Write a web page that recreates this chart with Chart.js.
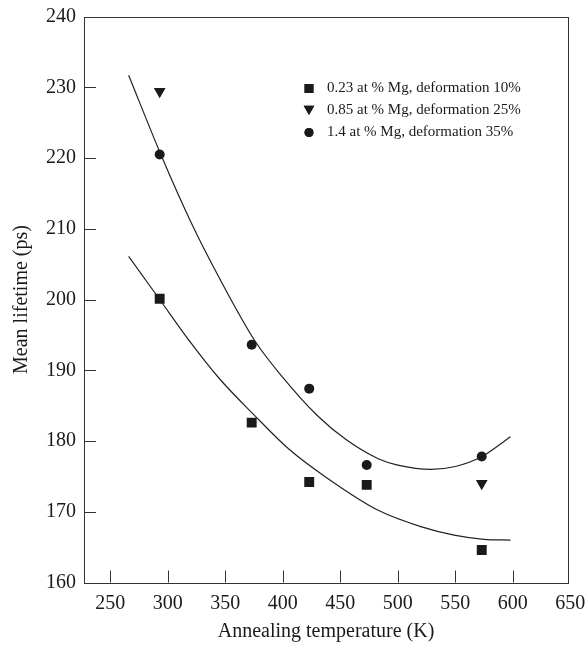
<!DOCTYPE html>
<html>
<head>
<meta charset="utf-8">
<script src="https://cdn.jsdelivr.net/npm/chart.js@4.4.0/dist/chart.umd.min.js"></script>
<style>
  html, body { margin: 0; padding: 0; background: #fff; }
  #wrap { width: 586px; height: 645px; }
</style>
</head>
<body>
<div id="wrap"><canvas id="chart"></canvas></div>
<script>
// measured points (annealing temperature in K, mean lifetime in ps)
const temps = [293, 373, 423, 473, 573];
const lowMg = [200.1, 182.6, 174.2, 173.8, 164.6];      // 0.23 at % Mg, 10%
const midTemps = [293, 573];
const midMg = [229.4, 174.0];                            // 0.85 at % Mg, 25%
const highMg = [220.5, 193.6, 187.4, 176.6, 177.8];     // 1.4 at % Mg, 35%

// fitted curves
const upperFitT = [266, 294, 320, 345, 376, 400, 430, 455, 483, 500, 529, 550, 572, 598];
const upperFit = [231.7, 220.5, 211.0, 203.0, 194.1, 189.0, 183.6, 180.2, 177.5, 176.6, 176.0, 176.4, 177.7, 180.6];
const lowerFitT = [266, 293, 320, 345, 375, 405, 440, 483, 520, 549, 575, 598];
const lowerFit = [206.1, 200.0, 193.9, 188.8, 183.7, 178.9, 174.6, 170.2, 167.9, 166.7, 166.1, 166.0];

const seriesNames = ['0.23 at % Mg, deformation 10%', '0.85 at % Mg, deformation 25%', '1.4 at % Mg, deformation 35%'];
const xTicks = [250, 300, 350, 400, 450, 500, 550, 600, 650];
const yTicks = [160, 170, 180, 190, 200, 210, 220, 230, 240];

const FONT = "'Liberation Serif', 'DejaVu Serif', serif";
const INK = '#1a1a1a';

const pts = (xs, ys) => xs.map((x, i) => ({ x: x, y: ys[i] }));

const markerStyles = [
    { pointStyle: 'rect', radius: 7, rotation: 0 },
    { pointStyle: 'triangle', radius: 6.8, rotation: 180 },
    { pointStyle: 'circle', radius: 5, rotation: 0 }
];

// frame, inward tick marks and the in-plot legend
const framePlugin = {
    id: 'frame',
    afterDraw(chart) {
        const { ctx, chartArea: a, scales: { x, y } } = chart;
        ctx.save();
        ctx.strokeStyle = '#333';
        ctx.lineWidth = 1;
        ctx.strokeRect(Math.round(a.left) + 0.5, Math.round(a.top) + 0.5, Math.round(a.right - a.left), Math.round(a.bottom - a.top));
        ctx.beginPath();
        xTicks.forEach(v => {
            const px = Math.round(x.getPixelForValue(v)) + 0.5;
            if (px <= a.left + 2 || px >= a.right - 2) return;
            ctx.moveTo(px, a.bottom);
            ctx.lineTo(px, a.bottom - 12);
        });
        yTicks.forEach(v => {
            const py = Math.round(y.getPixelForValue(v)) + 0.5;
            if (py <= a.top + 2 || py >= a.bottom - 2) return;
            ctx.moveTo(a.left, py);
            ctx.lineTo(a.left + 12, py);
        });
        ctx.stroke();

        ctx.font = '15px ' + FONT;
        ctx.textBaseline = 'middle';
        ctx.textAlign = 'left';
        seriesNames.forEach((name, i) => {
            const m = markerStyles[i];
            const cy = 88.5 + i * 22 - (m.pointStyle === 'triangle' ? m.radius / 4 : 0);
            ctx.fillStyle = INK;
            ctx.strokeStyle = INK;
            Chart.helpers.drawPoint(ctx, { pointStyle: m.pointStyle, rotation: m.rotation, radius: m.radius * 0.9, borderWidth: 0 }, 309, cy);
            ctx.fill();
            ctx.fillText(name, 327, 88.5 + i * 22);
        });
        ctx.restore();
    }
};

const markerSet = (label, data, i) => ({
    label: label,
    data: data,
    pointStyle: markerStyles[i].pointStyle,
    rotation: markerStyles[i].rotation,
    pointRadius: markerStyles[i].radius,
    pointHoverRadius: markerStyles[i].radius,
    backgroundColor: INK,
    borderColor: INK,
    borderWidth: 0,
    showLine: false,
    order: 0
});

const fitSet = (data) => ({
    label: 'fit',
    data: data,
    showLine: true,
    pointRadius: 0,
    borderColor: '#222',
    borderWidth: 1.2,
    cubicInterpolationMode: 'monotone',
    fill: false,
    order: 1
});

new Chart(document.getElementById('chart'), {
    type: 'scatter',
    data: {
        datasets: [
            markerSet(seriesNames[0], pts(temps, lowMg), 0),
            markerSet(seriesNames[1], pts(midTemps, midMg), 1),
            markerSet(seriesNames[2], pts(temps, highMg), 2),
            fitSet(pts(upperFitT, upperFit)),
            fitSet(pts(lowerFitT, lowerFit))
        ]
    },
    options: {
        responsive: true,
        maintainAspectRatio: false,
        animation: false,
        layout: { padding: { left: 10, right: 0, top: 0, bottom: 0 } },
        plugins: { legend: { display: false }, tooltip: { enabled: false } },
        scales: {
            x: {
                type: 'linear',
                min: 227.2,
                max: 648,
                afterBuildTicks: s => { s.ticks = xTicks.map(v => ({ value: v })); },
                afterFit: s => { s.paddingRight = 18; },
                grid: { display: false, drawTicks: false },
                border: { display: false },
                ticks: { font: { family: FONT, size: 20 }, color: INK, padding: 9, autoSkip: false, maxRotation: 0 },
                title: { display: true, text: 'Annealing temperature (K)', font: { family: FONT, size: 20, lineHeight: 0.6 }, color: INK, padding: { top: 1.5, bottom: 7 } }
            },
            y: {
                min: 160,
                max: 240,
                afterBuildTicks: s => { s.ticks = yTicks.map(v => ({ value: v })); },
                afterFit: s => { s.paddingTop = 16.5; },
                grid: { display: false, drawTicks: false },
                border: { display: false },
                ticks: { font: { family: FONT, size: 20 }, color: INK, padding: 8, autoSkip: false },
                title: { display: true, text: 'Mean lifetime (ps)', font: { family: FONT, size: 20 }, color: INK, padding: { top: 0, bottom: 4 } }
            }
        }
    },
    plugins: [framePlugin]
});
</script>
</body>
</html>
